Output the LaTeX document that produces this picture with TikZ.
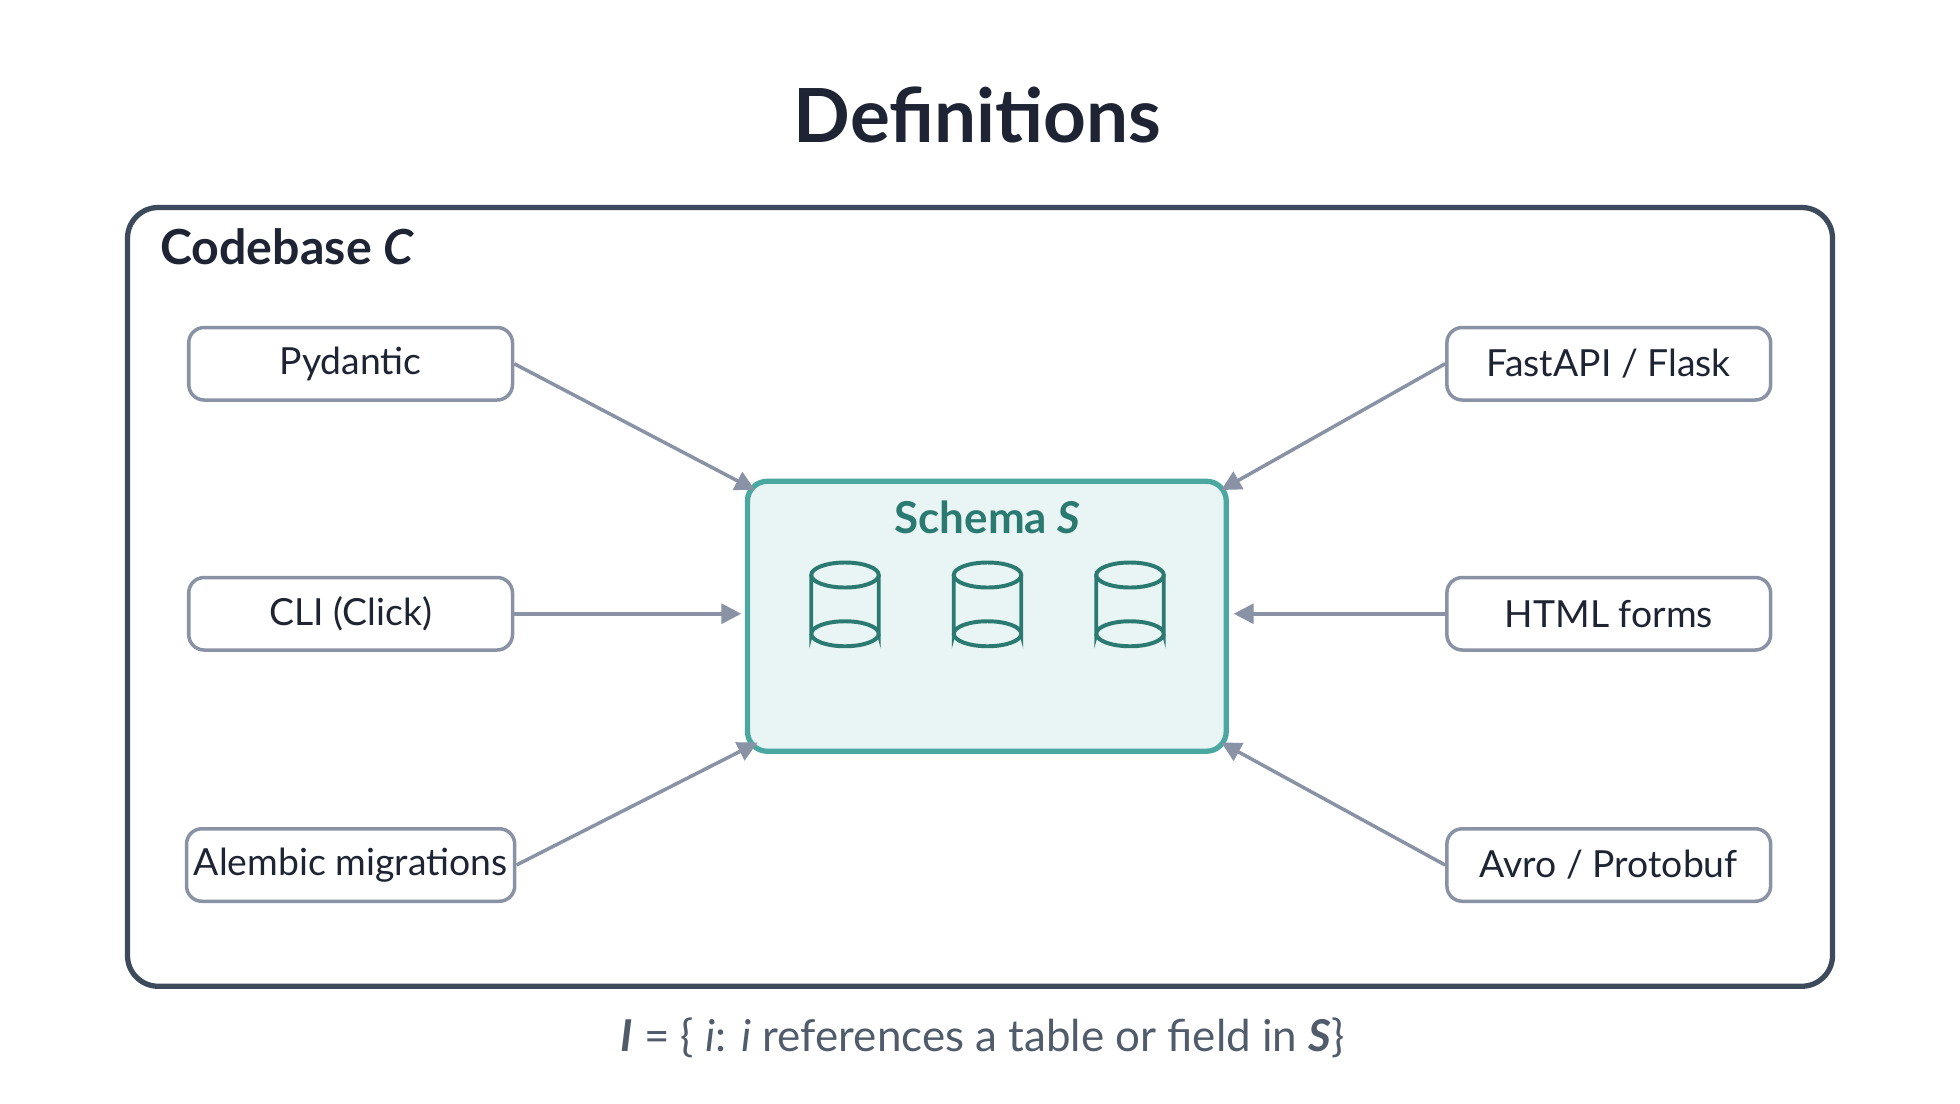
\documentclass[tikz,border=0pt]{standalone}
\usepackage{fontspec}
\setmainfont{Lato}
\usetikzlibrary{arrows.meta,shapes.geometric}
\definecolor{frame}{HTML}{3D4A5C}
\definecolor{boxb}{HTML}{8A93A5}
\definecolor{teal1}{HTML}{4AA8A0}
\definecolor{teal2}{HTML}{2A7A72}
\definecolor{tealf}{HTML}{E9F5F4}
\definecolor{txt}{HTML}{1E2433}
\begin{document}
\begin{tikzpicture}[x=0.02cm,y=-0.02cm,
  src/.style={draw=boxb,line width=1.6pt,rounded corners=7pt,minimum width=259*0.02cm,minimum height=58*0.02cm,font=\fontsize{17}{20}\selectfont,text=txt},
  arr/.style={draw=boxb,line width=1.6pt,-{Triangle[length=9pt,width=9pt]}},
  cyl/.style={draw=teal2,line width=1.8pt}]
\useasboundingbox (0,0) rectangle (1568,883);
\node[font=\bfseries\fontsize{34}{40}\selectfont,text=txt] (title) at (782,92) {Definitions};
\node[draw=frame,line width=2.4pt,rounded corners=14pt,minimum width=1364*0.02cm,minimum height=623*0.02cm] (code) at (784,477.5) {};
\node[anchor=west,font=\bfseries\fontsize{22}{26}\selectfont,text=txt] (codelbl) at (122,197) {Codebase \textit{C}};
\node[draw=teal1,fill=tealf,line width=2.4pt,rounded corners=9pt,minimum width=383*0.02cm,minimum height=216*0.02cm] (schema) at (789.5,493) {};
\node[font=\bfseries\fontsize{20}{24}\selectfont,text=teal2] (slbl) at (790,414) {Schema \textit{S}};
\foreach \n/\cx in {c1/676,c2/790,c3/904}{
  \draw[cyl,fill=tealf] (\cx-27,460) -- (\cx-27,507) arc[start angle=180,end angle=360,x radius=27,y radius=10] -- (\cx+27,460);
  \draw[cyl] (\cx,460) ellipse[x radius=27,y radius=10];
  \draw[cyl] (\cx-27,507) arc[start angle=180,end angle=0,x radius=27,y radius=10];
  \coordinate (\n) at (\cx,485);
}
\node[src] (pyd) at (280.5,291) {Pydantic};
\node[src] (cli) at (280.5,491) {CLI (Click)};
\node[src] (alem) at (280.5,692) {Alembic migrations};
\node[src] (fast) at (1287,291) {FastAPI / Flask};
\node[src] (html) at (1287,491) {HTML forms};
\node[src] (avro) at (1287,692) {Avro / Protobuf};
\coordinate (sTL) at (604,392);
\coordinate (sL) at (593,491);
\coordinate (sBL) at (606,594);
\coordinate (sTR) at (977,392);
\coordinate (sR) at (987,491);
\coordinate (sBR) at (977,594);
\draw[arr] (pyd.east) -- (sTL);
\draw[arr] (cli.east) -- (sL);
\draw[arr] (alem.east) -- (sBL);
\draw[arr] (fast.west) -- (sTR);
\draw[arr] (html.west) -- (sR);
\draw[arr] (avro.west) -- (sBR);
\node[font=\fontsize{20}{24}\selectfont,text=frame!90] (formula) at (786,830) {\textbf{\textit{I}} = \{ \textit{i}: \textit{i} references a table or field in \textbf{\textit{S}}\}};
\end{tikzpicture}
\end{document}
